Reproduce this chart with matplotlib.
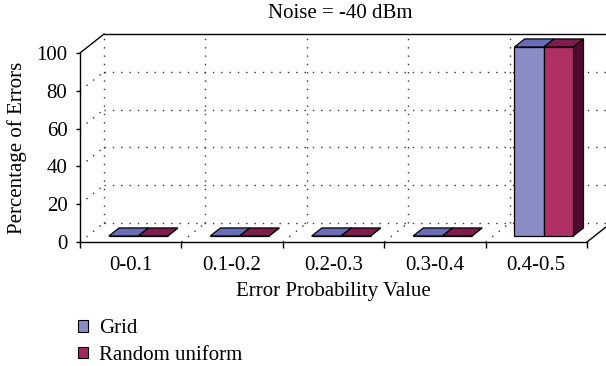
import numpy as np
import matplotlib
matplotlib.use("Agg")
import matplotlib.pyplot as plt
from matplotlib.patches import Polygon, Patch

plt.rcParams['font.family'] = ['Liberation Serif', 'DejaVu Serif']

categories = ['0-0.1', '0.1-0.2', '0.2-0.3', '0.3-0.4', '0.4-0.5']
grid_vals = [0, 0, 0, 0, 100]
random_vals = [0, 0, 0, 0, 100]
series_names = ['Grid', 'Random uniform']
yticks = [0, 20, 40, 60, 80, 100]

# colours: front, top, side
grid_cols = ('#8a8cc6', '#6a6db5', '#4a4c8a')
rand_cols = ('#b03065', '#7d1d4b', '#500a30')

# depth offset of the back wall, in data units
DX = 0.237
DY = 10.05


def proj(x, y, z):
    return x + z * DX, y + z * DY


def bar3d(ax, x0, x1, h, z0, z1, cols):
    front = [proj(x0, 0, z0), proj(x1, 0, z0), proj(x1, h, z0), proj(x0, h, z0)]
    top = [proj(x0, h, z0), proj(x1, h, z0), proj(x1, h, z1), proj(x0, h, z1)]
    side = [proj(x1, 0, z0), proj(x1, 0, z1), proj(x1, h, z1), proj(x1, h, z0)]
    for pts, c in ((side, cols[2]), (front, cols[0]), (top, cols[1])):
        ax.add_patch(Polygon(pts, closed=True, facecolor=c, edgecolor='black',
                             linewidth=0.9, zorder=3, clip_on=False))


fig = plt.figure(figsize=(6.06, 3.66), dpi=100)
ax = fig.add_axes([80 / 606, 1 - 242 / 366, 507 / 606, 189 / 366])
ax.set_xlim(0, 5)
ax.set_ylim(0, 100)
ax.patch.set_visible(False)
for s in ('top', 'right'):
    ax.spines[s].set_visible(False)
for s in ('left', 'bottom'):
    ax.spines[s].set_linewidth(1.0)

dot = dict(color='#333333', linewidth=1.0, linestyle=(0, (1, 5)), zorder=1, clip_on=False)
solid = dict(color='black', linewidth=1.0, zorder=2, clip_on=False)

# back wall gridlines
for v in yticks[:-1]:
    (xa, ya), (xb, yb) = proj(0, v, 1), proj(5, v, 1)
    ax.plot([xa, xb], [ya, yb], **dot)
    (xa, ya), (xb, yb) = proj(0, v, 0), proj(0, v, 1)
    ax.plot([xa, xb], [ya, yb], **dot)
for k in range(5):
    (xa, ya), (xb, yb) = proj(k, 0, 1), proj(k, 100, 1)
    ax.plot([xa, xb], [ya, yb], **dot)
for k in range(1, 5):
    (xa, ya), (xb, yb) = proj(k, 0, 0), proj(k, 0, 1)
    ax.plot([xa, xb], [ya, yb], **dot)

# solid outline of the box
(xa, ya), (xb, yb) = proj(0, 100, 0), proj(0, 100, 1)
ax.plot([xa, xb], [ya, yb], **solid)
(xa, ya), (xb, yb) = proj(0, 100, 1), proj(5, 100, 1)
ax.plot([xa, xb], [ya, yb], **solid)
(xa, ya), (xb, yb) = proj(5, 0, 0), proj(5, 0, 1)
ax.plot([xa, xb], [ya, yb], **solid)

# bars
z0, z1 = 0.316, 0.74
for i, (g, r) in enumerate(zip(grid_vals, random_vals)):
    bar3d(ax, i + 0.21, i + 0.5, g, z0, z1, grid_cols)
    bar3d(ax, i + 0.5, i + 0.79, r, z0, z1, rand_cols)

# axes ticks and labels
ax.set_yticks(yticks)
ax.set_yticklabels([str(v) for v in yticks], fontsize=15)
ax.tick_params(axis='y', direction='out', length=3, width=1.0, pad=6)
ax.set_xticks(range(6))
ax.set_xticklabels([])
ax.tick_params(axis='x', which='major', direction='out', length=4, width=1.0)
ax.set_xticks(np.arange(5) + 0.5, minor=True)
ax.set_xticklabels(categories, minor=True, fontsize=15)
ax.tick_params(axis='x', which='minor', length=0, pad=10)

ax.set_xlabel('Error Probability Value', fontsize=15, labelpad=5)
ax.set_ylabel('Percentage of Errors', fontsize=15, labelpad=7)
fig.text(340 / 606, 1 - 14 / 366, 'Noise = -40 dBm', fontsize=15,
         ha='center', va='center')

handles = [Patch(facecolor=grid_cols[0], edgecolor='black', linewidth=0.8),
           Patch(facecolor='#a02a5f', edgecolor='black', linewidth=0.8)]
fig.legend(handles, series_names, loc='upper left',
           bbox_to_anchor=(78 / 606, 1 - 319 / 366), frameon=False,
           fontsize=15, handlelength=0.5, handleheight=0.5,
           handletextpad=0.5, labelspacing=0.38, borderpad=0, borderaxespad=0)

fig.savefig('out.png', dpi=100)
